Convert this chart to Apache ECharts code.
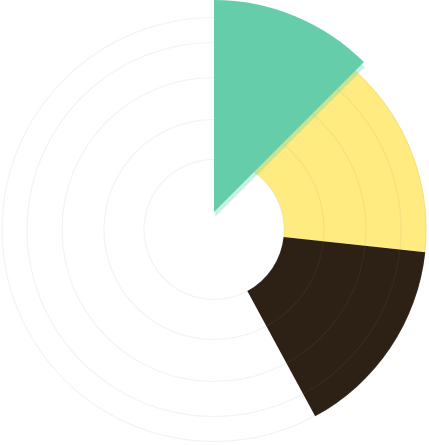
<!DOCTYPE html>
<html><head><meta charset="utf-8">
<script src="https://cdn.jsdelivr.net/npm/echarts@6/dist/echarts.min.js"></script>
<style>html,body{margin:0;padding:0;background:#fff}#c{width:429px;height:445px}</style>
</head><body><div id="c"></div>
<script>
// Data: share of a full turn (percent)
const categories = ['Green', 'Yellow', 'Dark'];
const values = [12.5, 26.7, 15.4];
const colors = ['#66cdaa', '#ffeb80', '#2d2015'];

const chart = echarts.init(document.getElementById('c'), null, {renderer: 'canvas'});
const blank = {itemStyle: {color: 'rgba(0,0,0,0)'}, silent: true};
const common = {
  type: 'pie', startAngle: 90, clockwise: true, label: {show: false}, labelLine: {show: false},
  emphasis: {disabled: true}, animation: false, avoidLabelOverlap: false, silent: true
};
const ringRadii = [70, 110, 152, 187, 212];
const series = [];
// yellow + dark sectors
series.push(Object.assign({}, common, {
  name: 'outer', center: [214, 229.5], radius: [70, 212.5], z: 1,
  data: [
    {name: categories[1], value: values[1], itemStyle: {color: colors[1]}},
    {name: categories[2], value: values[2], itemStyle: {color: colors[2]}},
    Object.assign({name: 'rest', value: 100 - values[1] - values[2]}, blank)
  ]
}));
// decorative rings
ringRadii.forEach((r, i) => {
  series.push(Object.assign({}, common, {
    name: 'ring' + i, center: [214, 229.5], radius: [r - 0.6, r + 0.6], z: 2,
    data: [{value: 1, itemStyle: {color: 'rgba(140,140,140,0.1)', shadowBlur: 2, shadowColor: 'rgba(0,0,0,0.03)'}}]
  }));
});
// green sector
series.push(Object.assign({}, common, {
  name: 'green', center: [214, 212], radius: [0, 212], z: 3,
  data: [
    {name: categories[0], value: values[0], itemStyle: {color: colors[0], shadowColor: 'rgba(102,205,170,0.35)', shadowOffsetX: 1, shadowOffsetY: 5, shadowBlur: 1}},
    Object.assign({name: 'rest', value: 100 - values[0]}, blank)
  ]
}));
chart.setOption({backgroundColor: '#fff', animation: false, series});
</script></body></html>
